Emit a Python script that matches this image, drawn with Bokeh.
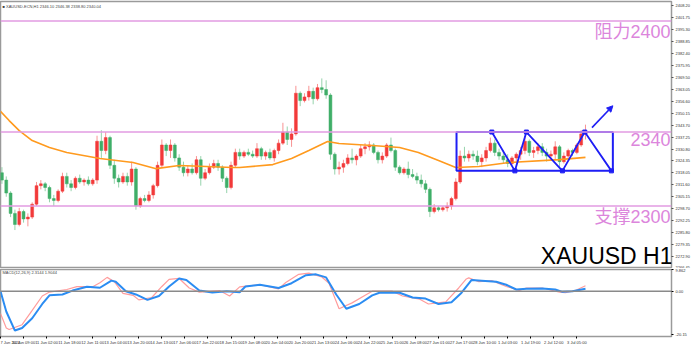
from bokeh.plotting import figure
from bokeh.models import (ColumnDataSource, Range1d, FixedTicker, Label, Span,
                          Arrow, NormalHead, PrintfTickFormatter)
from bokeh.layouts import column
from bokeh.embed import file_html
from bokeh.resources import INLINE
from bokeh.core.properties import value

# ---------------- data ----------------
# each candle below summarises 3 hourly bars
opens = [2318, 2314, 2307, 2296, 2290, 2297, 2293, 2294, 2301, 2311,
         2312, 2310, 2304, 2303, 2308, 2316, 2312, 2310, 2315, 2313,
         2314, 2312, 2314, 2335, 2330, 2337, 2322, 2315, 2313, 2316,
         2313, 2320, 2300, 2304, 2303, 2306, 2311, 2322, 2333, 2330,
         2333, 2326, 2321, 2318, 2320, 2318, 2325, 2315, 2318, 2321,
         2323, 2321, 2315, 2310, 2322, 2329, 2327, 2329, 2328, 2327,
         2331, 2327, 2329, 2326, 2330, 2334, 2340, 2336, 2339, 2361,
         2357, 2359, 2362, 2358, 2364, 2363, 2360, 2328, 2320, 2321,
         2323, 2326, 2325, 2327, 2331, 2332, 2333, 2329, 2325, 2327,
         2333, 2330, 2321, 2318, 2320, 2317, 2316, 2314, 2312, 2309,
         2297, 2299, 2298, 2299, 2300, 2304, 2313, 2327, 2326, 2328,
         2327, 2324, 2326, 2330, 2334, 2329, 2327, 2325, 2323, 2326,
         2328, 2330, 2335, 2329, 2330, 2332, 2329, 2327, 2328, 2332,
         2324, 2327, 2330, 2329, 2333, 2339]
highs = [2321, 2316, 2308, 2298, 2299, 2298, 2296, 2302, 2313, 2314,
         2313, 2311, 2306, 2309, 2318, 2318, 2314, 2316, 2317, 2315,
         2316, 2315, 2338, 2341, 2340, 2338, 2325, 2317, 2318, 2318,
         2324, 2321, 2305, 2306, 2308, 2312, 2324, 2336, 2334, 2336,
         2334, 2328, 2324, 2322, 2323, 2327, 2327, 2320, 2323, 2325,
         2325, 2322, 2316, 2324, 2331, 2331, 2330, 2331, 2330, 2334,
         2332, 2330, 2331, 2331, 2336, 2345, 2343, 2342, 2365, 2362,
         2361, 2365, 2364, 2366, 2369, 2368, 2361, 2329, 2324, 2325,
         2328, 2331, 2328, 2333, 2334, 2335, 2334, 2330, 2329, 2334,
         2337, 2331, 2322, 2321, 2324, 2320, 2318, 2317, 2314, 2310,
         2301, 2300, 2300, 2302, 2305, 2315, 2330, 2332, 2330, 2330,
         2330, 2328, 2332, 2337, 2336, 2331, 2330, 2328, 2327, 2329,
         2332, 2338, 2336, 2332, 2334, 2334, 2331, 2330, 2335, 2333,
         2329, 2331, 2331, 2334, 2341, 2344]
lows = [2312, 2305, 2294, 2287, 2289, 2291, 2289, 2293, 2300, 2309,
        2308, 2302, 2300, 2302, 2307, 2310, 2308, 2309, 2312, 2311,
        2311, 2311, 2312, 2326, 2328, 2320, 2312, 2310, 2312, 2311,
        2311, 2298, 2299, 2302, 2302, 2304, 2310, 2321, 2327, 2326,
        2324, 2319, 2316, 2316, 2317, 2317, 2311, 2314, 2317, 2320,
        2319, 2313, 2307, 2309, 2321, 2325, 2326, 2327, 2326, 2326,
        2325, 2325, 2325, 2324, 2328, 2333, 2333, 2332, 2338, 2354,
        2356, 2357, 2355, 2357, 2361, 2358, 2325, 2317, 2317, 2318,
        2322, 2323, 2322, 2326, 2328, 2330, 2328, 2323, 2323, 2326,
        2329, 2319, 2317, 2317, 2315, 2315, 2312, 2310, 2307, 2294,
        2296, 2297, 2297, 2297, 2298, 2303, 2312, 2324, 2324, 2325,
        2322, 2321, 2324, 2329, 2327, 2325, 2323, 2321, 2322, 2324,
        2325, 2328, 2327, 2326, 2328, 2327, 2324, 2325, 2325, 2321,
        2323, 2326, 2327, 2328, 2332, 2336]
closes = [2314, 2307, 2296, 2290, 2297, 2293, 2294, 2301, 2311, 2312,
          2310, 2304, 2303, 2308, 2316, 2312, 2310, 2315, 2313, 2314,
          2312, 2314, 2335, 2330, 2337, 2322, 2315, 2313, 2316, 2313,
          2320, 2300, 2304, 2303, 2306, 2311, 2322, 2333, 2330, 2333,
          2326, 2321, 2318, 2320, 2318, 2325, 2315, 2318, 2321, 2323,
          2321, 2315, 2310, 2322, 2329, 2327, 2329, 2328, 2327, 2331,
          2327, 2329, 2326, 2330, 2334, 2340, 2336, 2339, 2361, 2357,
          2359, 2362, 2358, 2364, 2363, 2360, 2328, 2320, 2321, 2323,
          2326, 2325, 2327, 2331, 2332, 2333, 2329, 2325, 2327, 2333,
          2330, 2321, 2318, 2320, 2317, 2316, 2314, 2312, 2309, 2297,
          2299, 2298, 2299, 2300, 2304, 2313, 2327, 2326, 2328, 2327,
          2324, 2326, 2330, 2334, 2329, 2327, 2325, 2323, 2326, 2328,
          2330, 2335, 2329, 2330, 2332, 2329, 2327, 2328, 2332, 2324,
          2327, 2330, 2329, 2333, 2339, 2340]
BARS_PER_CANDLE = 3

# orange moving average (hour-bar index, price)
ma_bar = [0, 6, 13, 22, 34, 46, 69, 92, 108, 124, 143, 161, 166, 189,
          202, 214, 227, 235, 258, 277, 290, 304, 316, 332, 353, 388, 406]
ma_val = [2351.2, 2346.2, 2340.8, 2335.4, 2331.6, 2328.9, 2325.7, 2323.5,
          2320.2, 2321.9, 2321.4, 2320.8, 2320.8, 2322.4, 2325.7, 2330.0,
          2334.9, 2333.8, 2332.7, 2331.6, 2328.9, 2324.6, 2320.8, 2321.4,
          2323.5, 2325.1, 2326.3]

# MACD panel lines
blue_bar = [0, 4, 10, 15, 22, 29, 34, 43, 50, 60, 69, 77, 80, 87, 94,
            102, 110, 117, 124, 129, 138, 147, 157, 166, 170, 180, 193,
            202, 212, 219, 226, 233, 240, 249, 258, 263, 277, 286, 295,
            304, 313, 320, 327, 334, 344, 351, 358, 365, 376, 385, 390,
            397, 406]
blue_val = [0, -9.4, -18.2, -17.0, -12.5, -5.9, -1.9, -1.5, 0.3, 2.1, 1.6,
            4.9, 4.4, 0, -1.5, -4.0, -2.2, 2.2, 5.9, 5.2, 0.3, -0.6, 0,
            -0.5, 2.2, 3.0, 1.5, 3.7, 7.4, 7.8, 6.4, -1.5, -8.1, -5.9, -1.9,
            -0.7, -0.7, -2.9, -3.4, -5.9, -5.1, -0.7, 5.2, 4.9, 4.4, 3.0,
            0.8, 1.1, 1.3, 0.8, -0.3, 0, 1.1]
red_bar = [0, 4, 6, 15, 22, 29, 34, 46, 53, 64, 69, 74, 79, 85, 92, 96,
           105, 112, 117, 124, 131, 138, 152, 159, 166, 180, 193, 198, 207,
           214, 223, 228, 235, 244, 254, 258, 272, 279, 291, 297, 309, 318,
           323, 325, 332, 341, 351, 360, 365, 376, 388, 392, 399, 406]
red_val = [-10.3, -17.0, -17.7, -15.5, -8.9, -2.2, -0.4, 0.8, 2.1, 2.1,
           3.9, 6.4, 4.4, -1.0, -1.9, -4.0, -2.9, 2.2, 5.5, 5.9, 1.5, -0.4,
           0.3, -2.2, 2.0, 3.0, 1.1, 4.0, 7.8, 8.4, 6.6, 3.7, -8.1, -5.4,
           -1.5, 0, 0, -2.2, -3.7, -5.9, -4.9, 1.5, 5.5, 6.2, 4.4, 4.9, 2.2,
           0.4, 1.5, 1.5, -0.4, -0.7, 0.3, 2.5]

# horizontal levels and their labels
levels = [2400, 2340, 2300]
level_texts = ["阻力2400", "2340", "支撑2300"]

# right price axis tick labels
price_ticks = [2408.20, 2401.75, 2395.30, 2388.85, 2382.40, 2375.95, 2369.50,
               2363.05, 2356.60, 2350.15, 2343.70, 2337.25, 2330.80, 2324.35,
               2318.05, 2311.60, 2305.15, 2298.70, 2292.25, 2285.80, 2279.35,
               2272.90, 2266.45]
macd_ticks = [9.862, 0.0, -20.15]
macd_tick_labels = ["9.862", "0.00", "-20.15"]

# time axis labels (one every 16 hourly bars)
time_labels = ["7 Jun 2024", "10 Jun 09:00", "11 Jun 02:00", "11 Jun 18:00",
               "12 Jun 11:00", "13 Jun 04:00", "13 Jun 20:00", "14 Jun 13:00",
               "17 Jun 06:00", "17 Jun 22:00", "18 Jun 15:00", "19 Jun 08:00",
               "20 Jun 04:00", "20 Jun 20:00", "21 Jun 13:00", "24 Jun 06:00",
               "24 Jun 22:00", "25 Jun 15:00", "26 Jun 08:00", "27 Jun 01:00",
               "27 Jun 17:00", "28 Jun 10:00", "1 Jul 03:00", "1 Jul 19:00",
               "2 Jul 12:00", "3 Jul 05:00"]
LABEL_EVERY = 16

# drawn annotations (bar index, price)
box = dict(left=316.5, right=425, top=2340, bottom=2319)
zig_bar = [341, 357, 365, 390, 405.5, 424]
zig_price = [2340, 2319, 2340, 2319, 2340, 2319]
arrow_from = (410.5, 2342.4)
arrow_to = (425, 2354.2)

header_text = "■ XAUUSD-ECN,H1  2346.10 2346.38 2338.80 2340.04"
macd_header = "MACD(12,26,9) 2.3144 1.9044"
title_text = "XAUUSD H1"

# ---------------- styles ----------------
UP = "#F23A3A"
DOWN = "#3FAE68"
PINK = "#E29BE2"
PINK_TEXT = "#DC86DC"
BLUE = "#1E1EF5"
ORANGE = "#FF9A1E"
FRAME = "#9a9a9a"
SMALL = "4px"
AXFONT = "Liberation Sans"
BIGFONT = "Liberation Sans, Noto Sans CJK SC"

X_START, X_END = 0, 465.7

n = len(opens)
xs = [BARS_PER_CANDLE * i + 1 for i in range(n)]
cols = [UP if c >= o else DOWN for o, c in zip(opens, closes)]
src = ColumnDataSource(dict(
    x=xs, high=highs, low=lows,
    top=[max(o, c) for o, c in zip(opens, closes)],
    bottom=[min(o, c) for o, c in zip(opens, closes)],
    color=cols))

# ---------------- main price panel ----------------
p = figure(width=692, height=268, x_range=Range1d(X_START, X_END),
           y_range=Range1d(2266.2, 2410.6), output_backend="svg",
           toolbar_location=None, x_axis_location=None,
           y_axis_location="right", min_border_left=0, min_border_right=19,
           min_border_top=1, min_border_bottom=0)
p.grid.visible = False
p.outline_line_color = FRAME
p.outline_line_width = 1.5
p.background_fill_color = "white"
p.border_fill_color = "white"

ya = p.yaxis[0]
ya.ticker = FixedTicker(ticks=price_ticks)
ya.formatter = PrintfTickFormatter(format="%.2f")
ya.major_label_text_font_size = SMALL
ya.major_label_text_font = AXFONT
ya.major_label_text_color = "#333333"
ya.major_label_standoff = 2
ya.major_tick_out = 2
ya.major_tick_in = 0
ya.minor_tick_out = 0
ya.minor_tick_in = 0
ya.axis_line_color = FRAME
ya.major_tick_line_color = "#555555"

for lv in levels:
    p.add_layout(Span(location=lv, dimension="width", line_color=PINK,
                      line_width=1.5))

p.segment(x0="x", y0="high", x1="x", y1="low", source=src,
          line_color="color", line_alpha=0.55, line_width=1)
p.vbar(x="x", width=2.0, top="top", bottom="bottom", source=src,
       fill_color="color", line_color="color", line_width=0.5)

p.line(ma_bar, ma_val, line_color=ORANGE, line_width=1.6)

p.quad(left=[box["left"]], right=[box["right"]], top=[box["top"]],
       bottom=[box["bottom"]], fill_alpha=0, line_color=BLUE, line_width=2)
p.line(zig_bar, zig_price, line_color=BLUE, line_width=1.8)
p.scatter(zig_bar, zig_price, size=4, marker="square", color=BLUE)
p.add_layout(Arrow(end=NormalHead(size=6, fill_color=BLUE, line_color=BLUE),
                   x_start=arrow_from[0], y_start=arrow_from[1],
                   x_end=arrow_to[0], y_end=arrow_to[1],
                   line_color=BLUE, line_width=1.6))

p.text(x=[X_END] * len(levels), y=levels, text=level_texts,
       text_align="right", text_baseline="top", x_offset=-1, y_offset=1,
       text_font=value(BIGFONT), text_font_size="18px", text_color=PINK_TEXT)

p.add_layout(Label(x=672, y=0, x_units="screen", y_units="screen",
                   text=title_text, text_align="right",
                   text_baseline="bottom", text_font=BIGFONT,
                   text_font_size="23px", text_color="black"))

for lv in levels:
    p.add_layout(Label(x=X_END, y=lv, text=f"{lv:.2f}", x_offset=1,
                       text_baseline="middle", text_font_size=SMALL,
                       text_font=AXFONT, text_color="white",
                       background_fill_color=PINK))

p.add_layout(Label(x=2, y=260, x_units="screen", y_units="screen",
                   text=header_text, text_font_size=SMALL, text_font=AXFONT,
                   text_color="#444444"))

# ---------------- MACD panel ----------------
m = figure(width=692, height=79, x_range=p.x_range,
           y_range=Range1d(-20.95, 10.05), output_backend="svg",
           toolbar_location=None, x_axis_location="below",
           y_axis_location="right", min_border_left=0, min_border_right=19,
           min_border_top=1, min_border_bottom=0)
m.grid.visible = False
m.outline_line_color = FRAME
m.outline_line_width = 1.5
m.background_fill_color = "white"
m.border_fill_color = "white"

my = m.yaxis[0]
my.ticker = FixedTicker(ticks=macd_ticks)
my.major_label_overrides = {t: s for t, s in zip(macd_ticks, macd_tick_labels)}
my.major_label_text_font_size = SMALL
my.major_label_text_font = AXFONT
my.major_label_text_color = "#333333"
my.major_label_standoff = 2
my.major_tick_out = 2
my.major_tick_in = 0
my.minor_tick_out = 0
my.minor_tick_in = 0
my.axis_line_color = FRAME

tick_pos = [LABEL_EVERY * k for k in range(len(time_labels))]
mx = m.xaxis[0]
mx.ticker = FixedTicker(ticks=tick_pos)
mx.major_label_overrides = {t: s for t, s in zip(tick_pos, time_labels)}
mx.major_label_text_font_size = SMALL
mx.major_label_text_font = AXFONT
mx.major_label_text_color = "#333333"
mx.major_label_text_align = "left"
mx.major_label_standoff = 1
mx.major_tick_out = 2
mx.major_tick_in = 0
mx.minor_tick_out = 0
mx.minor_tick_in = 0
mx.axis_line_color = FRAME

m.add_layout(Span(location=0, dimension="width", line_color="#8a8a8a",
                  line_width=1.5))
m.line(red_bar, red_val, line_color="#FF9C9C", line_width=1.2)
m.line(blue_bar, blue_val, line_color="#2B8CF2", line_width=2)
m.add_layout(Label(x=2, y=62, x_units="screen", y_units="screen",
                   text=macd_header, text_font_size=SMALL, text_font=AXFONT,
                   text_color="#444444"))

layout = column(p, m, spacing=0)
open("out.html", "w").write(file_html(layout, INLINE))
